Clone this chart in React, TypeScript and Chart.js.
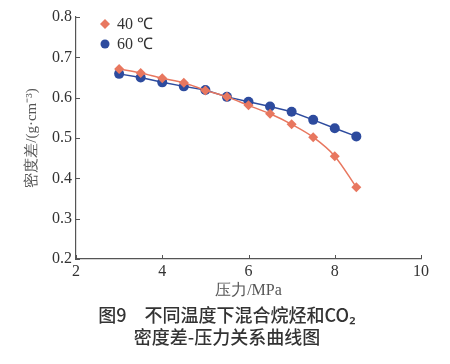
import { useEffect, useRef } from "react";
import { Chart, registerables } from "chart.js";

Chart.register(...registerables);

const pressure = [3, 3.5, 4, 4.5, 5, 5.5, 6, 6.5, 7, 7.5, 8, 8.5];
const diff40 = [0.671, 0.661, 0.648, 0.637, 0.618, 0.602, 0.581, 0.56, 0.534, 0.502, 0.455, 0.378];
const diff60 = [0.659, 0.65, 0.638, 0.628, 0.619, 0.602, 0.59, 0.578, 0.565, 0.545, 0.524, 0.504];
const seriesLabels = ["40 ℃", "60 ℃"];
const xTickValues = [2, 4, 6, 8, 10];
const yTickValues = [0.2, 0.3, 0.4, 0.5, 0.6, 0.7, 0.8];
const xTitle = "压力/MPa";
const yTitle = "密度差/(g·cm⁻³)";
const captionLines = ["图9　不同温度下混合烷烃和CO₂", "密度差-压力关系曲线图"];

const ORANGE = "#E8775F";
const BLUE = "#2D4B9E";
const AXIS = "#555555";
const TEXT = "#333333";
const SERIF = "'Liberation Serif', 'Times New Roman', serif";

const insideTicks = {
  id: "insideTicks",
  afterDraw(chart: any) {
    const { ctx, chartArea } = chart;
    const xs = chart.scales.x;
    const ys = chart.scales.y;
    ctx.save();
    ctx.strokeStyle = AXIS;
    ctx.lineWidth = 1;
    ctx.beginPath();
    xTickValues.forEach((v) => {
      const px = Math.round(xs.getPixelForValue(v)) + 0.5;
      ctx.moveTo(px, chartArea.bottom);
      ctx.lineTo(px, chartArea.bottom - 4);
    });
    yTickValues.forEach((v) => {
      const py = Math.round(ys.getPixelForValue(v)) + 0.5;
      ctx.moveTo(chartArea.left, py);
      ctx.lineTo(chartArea.left + 4, py);
    });
    ctx.stroke();
    ctx.restore();
  },
};

const legendInside = {
  id: "legendInside",
  afterDraw(chart: any) {
    const { ctx, chartArea } = chart;
    ctx.save();
    ctx.font = `16px ${SERIF}`;
    ctx.textBaseline = "middle";
    ctx.textAlign = "left";
    chart.data.datasets.forEach((ds: any, i: number) => {
      const cx = chartArea.left + 29;
      const cy = chartArea.top + 7 + i * 20;
      ctx.fillStyle = ds.backgroundColor;
      ctx.beginPath();
      if (ds.pointStyle === "rectRot") {
        const r = 5;
        ctx.moveTo(cx, cy - r);
        ctx.lineTo(cx + r, cy);
        ctx.lineTo(cx, cy + r);
        ctx.lineTo(cx - r, cy);
        ctx.closePath();
      } else {
        ctx.arc(cx, cy, 4.5, 0, Math.PI * 2);
      }
      ctx.fill();
      ctx.fillStyle = TEXT;
      ctx.fillText(ds.label, cx + 12, cy + 1);
    });
    ctx.restore();
  },
};

const caption = {
  id: "caption",
  afterDraw(chart: any) {
    const { ctx } = chart;
    ctx.save();
    ctx.font = `500 18px 'Noto Sans CJK SC', 'Noto Sans', sans-serif`;
    ctx.fillStyle = TEXT;
    ctx.textAlign = "center";
    ctx.textBaseline = "middle";
    captionLines.forEach((line, i) => {
      ctx.fillText(line, 227, 315 + i * 22);
    });
    ctx.restore();
  },
};

export default function App() {
  const ref = useRef<HTMLCanvasElement | null>(null);

  useEffect(() => {
    if (!ref.current) return;
    const chart = new Chart(ref.current, {
      type: "line",
      data: {
        datasets: [
          {
            label: seriesLabels[0],
            data: pressure.map((p, i) => ({ x: p, y: diff40[i] })),
            borderColor: ORANGE,
            backgroundColor: ORANGE,
            pointStyle: "rectRot",
            pointRadius: 5,
            pointBorderWidth: 0,
            borderWidth: 1.5,
            cubicInterpolationMode: "monotone",
          },
          {
            label: seriesLabels[1],
            data: pressure.map((p, i) => ({ x: p, y: diff60[i] })),
            borderColor: BLUE,
            backgroundColor: BLUE,
            pointStyle: "circle",
            pointRadius: 5,
            pointBorderWidth: 0,
            borderWidth: 1.5,
          },
        ],
      },
      options: {
        responsive: false,
        animation: false,
        devicePixelRatio: 1,
        layout: { padding: { left: 0, right: 29, top: 17, bottom: 0 } },
        plugins: {
          legend: { display: false },
          tooltip: { enabled: false },
        },
        scales: {
          x: {
            type: "linear",
            min: 2,
            max: 10,
            afterFit: (s: any) => {
              s.height = 105;
            },
            afterBuildTicks: (s: any) => {
              s.ticks = xTickValues.map((v) => ({ value: v }));
            },
            grid: { display: false, drawTicks: false },
            border: { display: true, color: AXIS, width: 1.2 },
            ticks: {
              padding: 3,
              color: TEXT,
              font: { family: SERIF, size: 16 },
              callback: (v: any) => String(v),
            },
            title: {
              display: true,
              text: xTitle,
              color: "#555555",
              font: { family: SERIF, size: 16 },
              padding: { top: 0, bottom: 64 },
            },
          },
          y: {
            type: "linear",
            min: 0.2,
            max: 0.8,
            afterFit: (s: any) => {
              s.width = 76;
            },
            afterBuildTicks: (s: any) => {
              s.ticks = yTickValues.map((v) => ({ value: v }));
            },
            grid: { display: false, drawTicks: false },
            border: { display: true, color: AXIS, width: 1.2 },
            ticks: {
              padding: 4,
              color: TEXT,
              font: { family: SERIF, size: 16 },
              callback: (v: any) => Number(v).toFixed(1),
            },
            title: {
              display: true,
              text: yTitle,
              color: "#555555",
              font: { family: SERIF, size: 15 },
              padding: { top: 23, bottom: 0 },
            },
          },
        },
      },
      plugins: [insideTicks, legendInside, caption],
    } as any);
    return () => chart.destroy();
  }, []);

  return (
    <canvas
      ref={ref}
      width={450}
      height={364}
      style={{ position: "fixed", left: 0, top: 0, width: 450, height: 364, display: "block", background: "#fff" }}
    />
  );
}
